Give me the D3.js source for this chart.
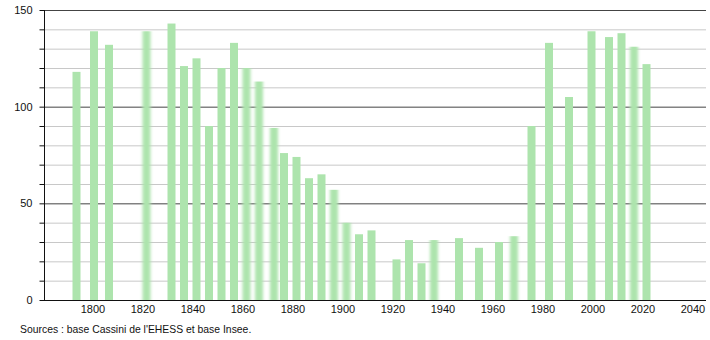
<!DOCTYPE html>
<html>
<head>
<meta charset="utf-8">
<script src="https://cdn.jsdelivr.net/npm/d3@7"></script>
<style>
  body { margin: 0; background: #fff; }
  svg text { font-family: "Liberation Sans", Arial, sans-serif; font-size: 11px; fill: #111; }
</style>
</head>
<body>
<div class="chart"></div>
<script>
// Recensements
var annees = [1793, 1800, 1806, 1821, 1831, 1836, 1841, 1846, 1851, 1856, 1861, 1866,
  1872, 1876, 1881, 1886, 1891, 1896, 1901, 1906, 1911, 1921, 1926, 1931, 1936,
  1946, 1954, 1962, 1968, 1975, 1982, 1990, 1999, 2006, 2011, 2016, 2021];
var habitants = [118, 139, 132, 139, 143, 121, 125, 90, 120, 133, 120, 113,
  89, 76, 74, 63, 65, 57, 40, 34, 36, 21, 31, 19, 31,
  32, 27, 30, 33, 90, 133, 105, 139, 136, 138, 131, 122];
// barres au bord flou
var anneesFloues = [1821, 1861, 1866, 1872, 1896, 1901, 1936, 1968, 2016];
var ticksX = [1800, 1820, 1840, 1860, 1880, 1900, 1920, 1940, 1960, 1980, 2000, 2020, 2040];
var ticksY = [0, 50, 100, 150];
var source = "Sources : base Cassini de l'EHESS et base Insee.";

var donnees = annees.map(function(a, i) { return { annee: a, pop: habitants[i] }; });

var svg = d3.select(".chart").append("svg")
    .attr("width", 710)
    .attr("height", 340);

var defs = svg.append("defs");
defs.append("filter").attr("id", "flou")
    .attr("x", "-50%").attr("width", "200%")
    .append("feGaussianBlur").attr("stdDeviation", "1.6 0");

var x = d3.scaleLinear().domain([1780, 2044.8]).range([44, 706]);
var y = d3.scaleLinear().domain([0, 150]).range([300, 10]);

// grille fine tous les 10
svg.append("g").selectAll("line")
    .data(d3.range(10, 150, 10).filter(function(v) { return v % 50 !== 0; }))
    .enter().append("line")
    .attr("x1", 44).attr("x2", 706)
    .attr("y1", function(d) { return y(d) + 0.5; })
    .attr("y2", function(d) { return y(d) + 0.5; })
    .attr("stroke", "#c8c8c8");

// grille forte
svg.append("g").selectAll("line")
    .data([50, 100, 150])
    .enter().append("line")
    .attr("x1", 44).attr("x2", 706)
    .attr("y1", function(d) { return y(d) + 0.5; })
    .attr("y2", function(d) { return y(d) + 0.5; })
    .attr("stroke", "#444");

// barres
svg.append("g").selectAll("rect")
    .data(donnees)
    .enter().append("rect")
    .attr("x", function(d) { return x(d.annee) - 4; })
    .attr("width", 8)
    .attr("y", function(d) { return y(d.pop); })
    .attr("height", function(d) { return y(0) - y(d.pop); })
    .attr("fill", "#ade4ad")
    .attr("filter", function(d) { return anneesFloues.indexOf(d.annee) >= 0 ? "url(#flou)" : null; });

// axe Y
var axeY = svg.append("g").attr("transform", "translate(44.5,0)");
axeY.append("line").attr("y1", 10).attr("y2", 300).attr("stroke", "#111");
axeY.selectAll("line.tick")
    .data(d3.range(0, 151, 10))
    .enter().append("line").attr("class", "tick")
    .attr("x1", -5).attr("x2", 0)
    .attr("y1", function(d) { return y(d) + 0.5; })
    .attr("y2", function(d) { return y(d) + 0.5; })
    .attr("stroke", "#111");
axeY.selectAll("text")
    .data(ticksY)
    .enter().append("text")
    .attr("x", -12)
    .attr("y", function(d) { return y(d) + 4; })
    .attr("text-anchor", "end")
    .text(function(d) { return d; });

// axe X
svg.append("line")
    .attr("x1", 40).attr("x2", 706)
    .attr("y1", 300.5).attr("y2", 300.5)
    .attr("stroke", "#111");
svg.append("g").selectAll("text")
    .data(ticksX)
    .enter().append("text")
    .attr("x", function(d) { return x(d) - 1; })
    .attr("y", 313)
    .attr("text-anchor", "middle")
    .text(function(d) { return d; });

svg.append("text")
    .attr("x", 20)
    .attr("y", 333)
    .style("font-size", "10.4px")
    .text(source);
</script>
</body>
</html>
